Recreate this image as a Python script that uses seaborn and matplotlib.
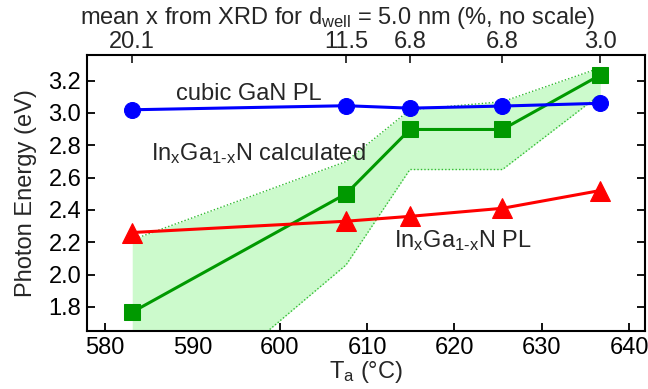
import matplotlib
matplotlib.use("Agg")
import matplotlib.pyplot as plt
import seaborn as sns
import pandas as pd

# annealing temperatures (°C)
t_anneal = [583.1, 607.6, 614.9, 625.5, 636.7]
# mean In content from XRD (%), shown on the top axis
x_xrd_labels = ["20.1", "11.5", "6.8", "6.8", "3.0"]

# photon energies (eV)
gan_pl = [3.02, 3.045, 3.03, 3.043, 3.06]
ingan_calc = [1.767, 2.50, 2.898, 2.898, 3.235]
ingan_pl = [2.26, 2.33, 2.36, 2.41, 2.52]

# uncertainty band of the calculated energy
calc_upper = [2.215, 2.70, 3.02, 3.07, 3.28]
calc_lower = [0.94, 2.06, 2.65, 2.65, 3.115]

df = pd.DataFrame({
    "T": t_anneal,
    "gan": gan_pl,
    "calc": ingan_calc,
    "pl": ingan_pl,
})

sns.set_theme(style="ticks")
plt.rcParams["font.family"] = ["Liberation Sans", "DejaVu Sans"]
plt.rcParams["mathtext.fontset"] = "custom"
plt.rcParams["mathtext.rm"] = "Liberation Sans"
plt.rcParams["mathtext.it"] = "Liberation Sans"

FS = 17

fig = plt.figure(figsize=(6.48, 3.89), dpi=100)
ax = fig.add_axes([0.134, 0.149, 0.861, 0.710])

green = "#009900"

# shaded band + dotted edges
ax.fill_between(t_anneal, calc_lower, calc_upper, color="#ccfacc", linewidth=0, zorder=1)
ax.plot(t_anneal, calc_upper, color="#33bb33", linestyle=(0, (1, 1.5)), linewidth=1, zorder=2)
ax.plot(t_anneal, calc_lower, color="#33bb33", linestyle=(0, (1, 1.5)), linewidth=1, zorder=2)

sns.lineplot(data=df, x="T", y="gan", ax=ax, color="#0000ff", marker="o",
             markersize=11.5, markeredgecolor="#0000ff", linewidth=2.2, sort=False, zorder=4)
sns.lineplot(data=df, x="T", y="calc", ax=ax, color=green, marker="s",
             markersize=11.5, markeredgecolor=green, linewidth=2.2, sort=False, zorder=3)
sns.lineplot(data=df, x="T", y="pl", ax=ax, color="#ff0000", marker="^",
             markersize=15, markeredgecolor="#ff0000", linewidth=2.2, sort=False, zorder=4)

ax.set_xlim(577.9, 641.8)
ax.set_ylim(1.65, 3.36)
ax.set_xticks([580, 590, 600, 610, 620, 630, 640])
ax.set_yticks([1.8, 2.0, 2.2, 2.4, 2.6, 2.8, 3.0, 3.2])
ax.set_xlabel("T$_\\mathrm{a}$ (°C)", fontsize=FS, labelpad=0)
ax.set_ylabel("Photon Energy (eV)", fontsize=FS, labelpad=8)

for side in ["left", "right", "top", "bottom"]:
    ax.spines[side].set_visible(True)
    ax.spines[side].set_linewidth(1.5)
    ax.spines[side].set_color("black")
ax.tick_params(axis="both", direction="in", length=6, width=1.3, labelsize=FS,
               right=True, top=False, pad=4, colors="black")

top = ax.secondary_xaxis("top")
top.set_xticks(t_anneal, labels=x_xrd_labels)
top.tick_params(direction="in", length=6, width=1.3, labelsize=FS, pad=1)
top.set_xlabel("mean x from XRD for d$_\\mathrm{well}$ = 5.0 nm (%, no scale)", fontsize=FS)
top.xaxis.set_label_coords(0.45, 1.112, transform=ax.transAxes)
top.xaxis.label.set_va("baseline")

ax.text(596.4, 3.12, "cubic GaN PL", fontsize=FS, ha="center", va="center")
ax.text(597.6, 2.75, "In$_\\mathrm{x}$Ga$_\\mathrm{1\\text{-}x}$N calculated", fontsize=FS,
        ha="center", va="center")
ax.text(621.0, 2.21, "In$_\\mathrm{x}$Ga$_\\mathrm{1\\text{-}x}$N PL", fontsize=FS,
        ha="center", va="center")

fig.savefig("out.png", dpi=100)
